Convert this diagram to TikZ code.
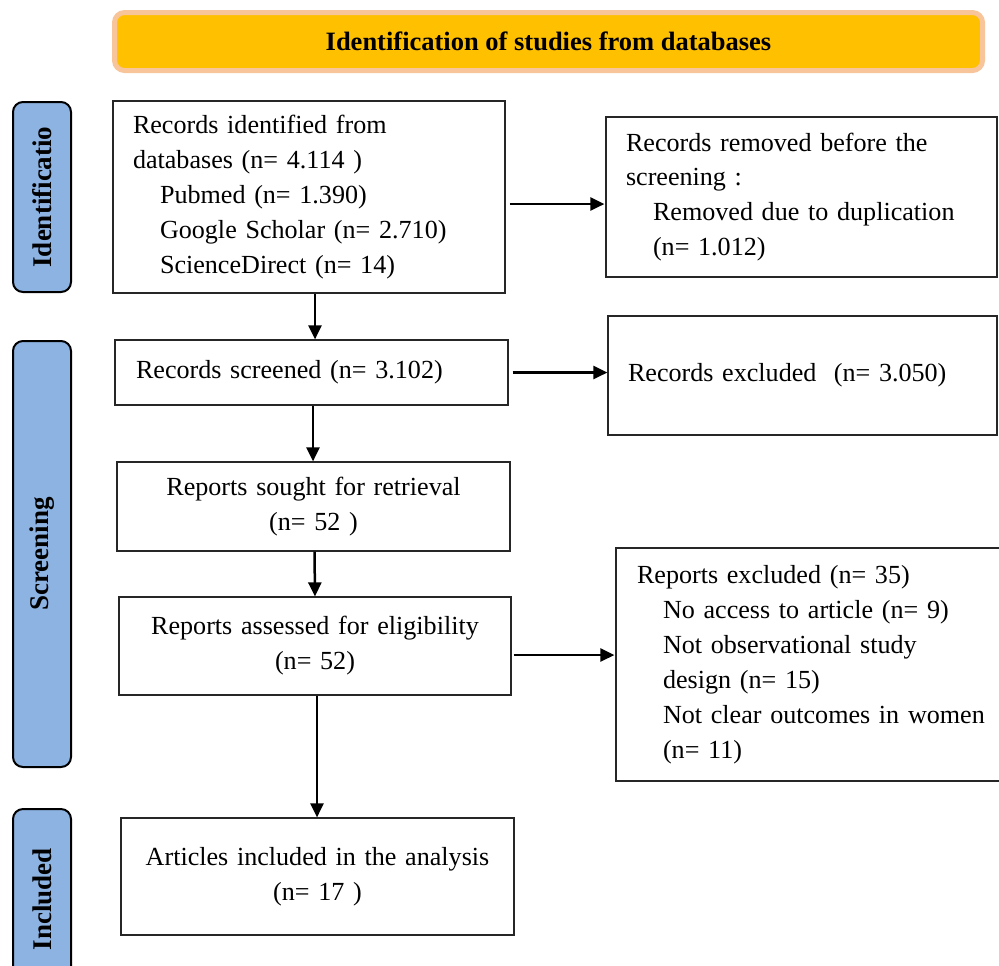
\documentclass[tikz,border=0pt]{standalone}
\usepackage{fontspec}
\setmainfont{Liberation Serif}
\usetikzlibrary{arrows.meta}
\definecolor{bannerfill}{HTML}{FFC000}
\definecolor{bannerline}{HTML}{F8C49A}
\definecolor{phasefill}{HTML}{8DB3E2}
\begin{document}
\begin{tikzpicture}[x=0.5pt,y=-0.5pt,
  txt/.style={font=\fontsize{13.05}{17.45}\selectfont},
  box/.style={draw=black!85, line width=0.6pt, rectangle, inner ysep=0pt, txt},
  lbox/.style={box, align=left, inner xsep=10pt},
  cbox/.style={box, align=center, inner xsep=6pt},
  phase/.style={draw=black, line width=1pt, fill=phasefill, rounded corners=5pt, inner sep=0pt,
    rotate=90, font=\bfseries\fontsize{13.5}{17.5}\selectfont},
  arr/.style={line width=1.25pt, -{Triangle[length=7pt,width=6.5pt]}}]
\useasboundingbox (0,0) rectangle (999,965);
\clip (0,0) rectangle (999,965);

% banner
\node[draw=bannerline, line width=2.5pt, fill=bannerfill, rounded corners=5pt,
  minimum width=434pt, minimum height=29pt, inner sep=0pt,
  font=\bfseries\fontsize{13.25}{17.5}\selectfont] (title) at (548.5,41.5)
  {Identification of studies from databases};

% phase labels
\node[phase, minimum width=95pt, minimum height=29pt] (p1) at (42,197) {Identificatio};
\node[phase, minimum width=213pt, minimum height=29pt] (p2) at (42,554) {Screening};
\node[phase, minimum width=90pt, minimum height=29pt] (p3) at (42,899) {Included};

% main boxes
\node[lbox, text width=176pt, minimum height=96pt] (A) at (309,197)
  {Records identified from\\
   databases (n= 4.114 )\\
   \hspace*{13.5pt}Pubmed (n= 1.390)\\
   \hspace*{13.5pt}Google Scholar (n= 2.710)\\
   \hspace*{13.5pt}ScienceDirect (n= 14)};
\node[lbox, text width=175.5pt, minimum height=80pt] (B) at (801.5,197)
  {Records removed before the\\
   screening :\\
   \hspace*{13.5pt}Removed due to duplication\\
   \hspace*{13.5pt}(n= 1.012)};
\node[lbox, inner xsep=10.5pt, text width=175.5pt, minimum height=32.5pt] (C) at (311.5,372.5)
  {Records screened (n= 3.102)};
\node[lbox, text width=174.5pt, minimum height=59.5pt] (D) at (802.5,375.5)
  {Records excluded\ \ (n= 3.050)};
\node[cbox, text width=184.5pt, minimum height=44.5pt] (E) at (313.5,506.5)
  {Reports sought for retrieval\\(n= 52 )};
\node[cbox, text width=184pt, minimum height=49pt] (F) at (315,646)
  {Reports assessed for eligibility\\(n= 52)};
\node[lbox, inner xsep=10.5pt, text width=180pt, minimum height=116.5pt] (G) at (817,664.5)
  {Reports excluded (n= 35)\\
   \hspace*{13pt}No access to article (n= 9)\\
   \hspace*{13pt}Not observational study\\
   \hspace*{13pt}design (n= 15)\\
   \hspace*{13pt}Not clear outcomes in women\\
   \hspace*{13pt}(n= 11)};
\node[cbox, text width=184.5pt, minimum height=58.5pt] (H) at (317.5,876.5)
  {Articles included in the analysis\\(n= 17 )};

% connectors
\draw[arr] ([shift={(4,7)}]A.east) -- ([shift={(-1,7)}]B.west);
\draw[arr] ([xshift=3pt]A.south) -- ([xshift=3pt]A.south |- C.north);
\draw[arr] ([xshift=2pt]C.east) -- (C.east -| D.west);
\draw[arr] ([xshift=0.75pt]C.south) -- ([xshift=0.75pt]C.south |- E.north);
\draw[arr] ([xshift=0.5pt]E.south) -- (F.north);
\draw[arr] ([shift={(2,9)}]F.east) -- ([shift={(-1,9)}]F.east -| G.west);
\draw[arr] ([xshift=1pt]F.south) -- ([xshift=1pt]F.south |- H.north);
\end{tikzpicture}
\end{document}
